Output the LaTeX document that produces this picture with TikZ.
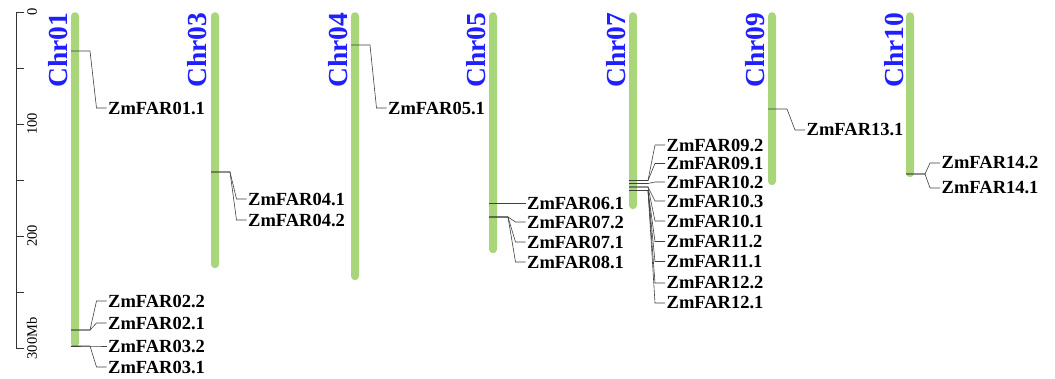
\documentclass[tikz,border=0pt]{standalone}
\usepackage{fontspec}
\setmainfont{Liberation Serif}
\definecolor{chrgreen}{HTML}{A9D67B}
\definecolor{chrblue}{HTML}{1F1FFF}
\tikzset{
  chrbar/.style={fill=chrgreen, draw=none, rounded corners=4pt, minimum width=8pt, inner sep=0pt, anchor=north},
  chrlab/.style={rotate=90, text=chrblue, font=\fontsize{27.5}{30}\selectfont\bfseries, inner sep=0pt},
  gene/.style={anchor=west, font=\fontsize{18.5}{20}\selectfont\bfseries, inner sep=1.5pt},
  conn/.style={draw=black!75, line width=0.6pt},
  axis/.style={draw=black!80, line width=0.7pt},
  axlab/.style={rotate=90, font=\fontsize{14.5}{16}\selectfont, inner sep=0pt},
}
\begin{document}
\begin{tikzpicture}[x=1pt,y=-1pt]
\useasboundingbox (0,0) rectangle (1055,379);
% axis
\coordinate (ax0) at (16,12);
\coordinate (ax1) at (16,348);
\draw[axis] (ax0) -- (ax1);
\foreach \k in {0,...,6}{
  \draw[axis] (16,12+56*\k) -- (24,12+56*\k);
}
\node[axlab] (t0) at (32,12) {0};
\node[axlab] (t100) at (32,124) {100};
\node[axlab] (t200) at (32,236) {200};
\node[axlab] (t300) at (32,338.5) {300Mb};
% chromosomes
\node[chrbar, minimum height=335pt] (c01) at (75,12) {};
\node[chrbar, minimum height=256pt] (c03) at (215,12) {};
\node[chrbar, minimum height=268pt] (c04) at (355,12) {};
\node[chrbar, minimum height=241pt] (c05) at (493,12) {};
\node[chrbar, minimum height=197pt] (c07) at (633,12) {};
\node[chrbar, minimum height=173pt] (c09) at (772,12) {};
\node[chrbar, minimum height=165pt] (c10) at (910,12) {};
\node[chrlab] (l01) at (58,50) {Chr01};
\node[chrlab] (l03) at (197,50) {Chr03};
\node[chrlab] (l04) at (338,50) {Chr04};
\node[chrlab] (l05) at (476,50) {Chr05};
\node[chrlab] (l07) at (616,50) {Chr07};
\node[chrlab] (l09) at (755,50) {Chr09};
\node[chrlab] (l10) at (894,50) {Chr10};
% gene labels
\node[gene] (g011) at (106.5,108) {ZmFAR01.1};
\node[gene] (g022) at (106.5,301) {ZmFAR02.2};
\node[gene] (g021) at (106.5,323) {ZmFAR02.1};
\node[gene] (g032) at (106.5,346) {ZmFAR03.2};
\node[gene] (g031) at (106.5,367) {ZmFAR03.1};
\node[gene] (g041) at (246.5,199) {ZmFAR04.1};
\node[gene] (g042) at (246.5,220) {ZmFAR04.2};
\node[gene] (g051) at (386.5,108) {ZmFAR05.1};
\node[gene] (g061) at (525.5,203.5) {ZmFAR06.1};
\node[gene] (g072) at (525.5,222) {ZmFAR07.2};
\node[gene] (g071) at (525.5,242) {ZmFAR07.1};
\node[gene] (g081) at (525.5,262) {ZmFAR08.1};
\node[gene] (g092) at (665,145) {ZmFAR09.2};
\node[gene] (g091) at (665,163.5) {ZmFAR09.1};
\node[gene] (g102) at (665,182) {ZmFAR10.2};
\node[gene] (g103) at (665,201) {ZmFAR10.3};
\node[gene] (g101) at (665,221) {ZmFAR10.1};
\node[gene] (g112) at (665,241.5) {ZmFAR11.2};
\node[gene] (g111) at (665,261.5) {ZmFAR11.1};
\node[gene] (g122) at (665,283) {ZmFAR12.2};
\node[gene] (g121) at (665,303) {ZmFAR12.1};
\node[gene] (g131) at (805,130) {ZmFAR13.1};
\node[gene] (g142) at (940,163) {ZmFAR14.2};
\node[gene] (g141) at (940,188) {ZmFAR14.1};
% gene positions
\coordinate (p01a) at (71,51);
\coordinate (p01b) at (71,330);
\coordinate (p01c) at (71,346);
\coordinate (p03) at (211,172);
\coordinate (p04) at (351,45);
\coordinate (p05a) at (489,203.5);
\coordinate (p05b) at (489,217);
\coordinate (p07a) at (629,180.5);
\coordinate (p07b) at (629,183.5);
\coordinate (p07c) at (629,187);
\coordinate (p07d) at (629,190.5);
\coordinate (p09) at (768,109);
\coordinate (p10) at (906,174);
% connectors
\foreach \p/\g in {p01a/g011, p01b/g022, p01b/g021, p01c/g032, p01c/g031,
                   p03/g041, p03/g042, p04/g051, p05a/g061,
                   p05b/g072, p05b/g071, p05b/g081,
                   p07a/g092, p07a/g091, p07b/g102, p07c/g103, p07c/g101,
                   p07d/g112, p07d/g111, p07d/g122, p07d/g121,
                   p09/g131, p10/g142, p10/g141}{
  \draw[conn] (\p) -- ++(19,0) -- ([xshift=-10pt]\g.west) -- (\g.west);
}
\end{tikzpicture}
\end{document}
